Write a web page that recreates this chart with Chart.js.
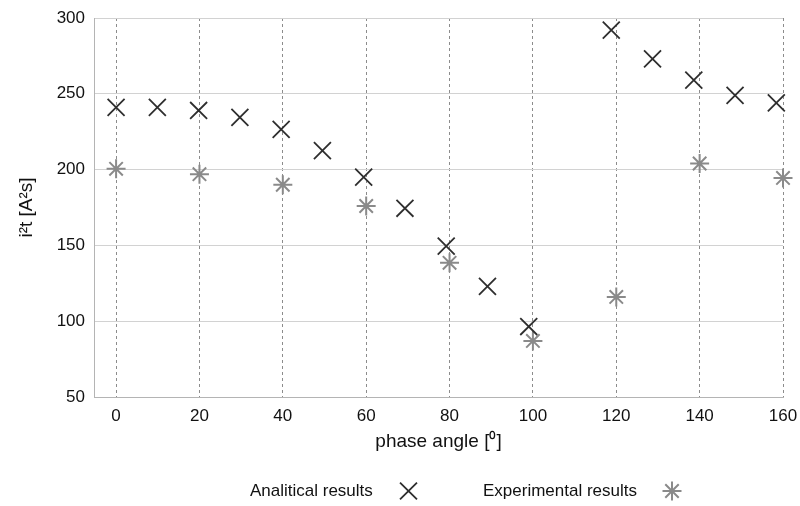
<!DOCTYPE html>
<html>
<head>
<meta charset="utf-8">
<script src="https://cdn.jsdelivr.net/npm/chart.js@4/dist/chart.umd.min.js"></script>
<style>
  html, body { margin: 0; padding: 0; background: #fff; }
</style>
</head>
<body>
<canvas id="myChart" width="800" height="506"></canvas>
<script>
// phase angle [deg] and i2t [A2s]
const analyticalAngle = [0, 9.9, 19.8, 29.7, 39.6, 49.5, 59.4, 69.3, 79.2, 89.1, 99, 118.8, 128.7, 138.6, 148.5, 158.4];
const analyticalI2t = [241, 241, 239, 234.5, 226.5, 212.5, 195, 174.5, 149.5, 123, 96.5, 292, 273, 259, 249, 244];

const experimentalAngle = [0, 20, 40, 60, 80, 100, 120, 140, 160];
const experimentalI2t = [200.5, 197, 190, 176, 138.5, 87, 116, 204, 194.5];

const xTicks = [0, 20, 40, 60, 80, 100, 120, 140, 160];
const yTicks = [50, 100, 150, 200, 250, 300];

const seriesNames = ['Analitical results', 'Experimental results'];

const FONT = "'Liberation Sans', Arial, Helvetica, sans-serif";

function toPoints(xs, ys) {
  return xs.map((x, i) => ({ x: x, y: ys[i] }));
}

// legend under the chart: text first, marker after it
const bottomLegend = {
  id: 'bottomLegend',
  afterDraw(chart) {
    const ctx = chart.ctx;
    const items = [
      { ds: 0, textX: 250, markX: 408.5 },
      { ds: 1, textX: 483, markX: 672 }
    ];
    const y = 491;
    ctx.save();
    ctx.font = '17px ' + FONT;
    ctx.fillStyle = '#111';
    ctx.textBaseline = 'middle';
    ctx.textAlign = 'left';
    items.forEach(item => {
      const ds = chart.data.datasets[item.ds];
      ctx.fillText(ds.label, item.textX, y);
      ctx.strokeStyle = ds.borderColor;
      ctx.lineWidth = ds.borderWidth;
      Chart.helpers.drawPoint(ctx, {
        pointStyle: ds.pointStyle,
        radius: ds.pointRadius,
        rotation: 0,
        borderWidth: ds.borderWidth
      }, item.markX, y);
    });
    ctx.restore();
  }
};

const ctx = document.getElementById('myChart').getContext('2d');

new Chart(ctx, {
  type: 'scatter',
  data: {
    datasets: [
      {
        label: seriesNames[0],
        data: toPoints(analyticalAngle, analyticalI2t),
        pointStyle: 'crossRot',
        pointRadius: 12,
        pointHoverRadius: 12,
        borderColor: '#2e2e2e',
        backgroundColor: '#2e2e2e',
        borderWidth: 1.8,
        clip: false
      },
      {
        label: seriesNames[1],
        data: toPoints(experimentalAngle, experimentalI2t),
        pointStyle: 'star',
        pointRadius: 9.5,
        pointHoverRadius: 9.5,
        borderColor: '#8a8a8a',
        backgroundColor: '#8a8a8a',
        borderWidth: 2,
        clip: false
      }
    ]
  },
  options: {
    responsive: false,
    animation: false,
    devicePixelRatio: 1,
    layout: {
      padding: { top: 18, right: 17, left: 0, bottom: 0 }
    },
    plugins: {
      legend: { display: false },
      tooltip: { enabled: false }
    },
    scales: {
      x: {
        type: 'linear',
        min: -5.3,
        max: 160,
        afterBuildTicks: (scale) => {
          scale.ticks = xTicks.map(v => ({ value: v }));
        },
        afterFit: (scale) => {
          scale.height = 109;
          scale.paddingLeft = 0;
          scale.paddingRight = 0;
        },
        grid: {
          color: '#8c8c8c',
          lineWidth: 1,
          drawTicks: false
        },
        border: {
          display: true,
          color: '#b4b4b4',
          width: 1,
          dash: [3, 3]
        },
        ticks: {
          padding: 9,
          color: '#111',
          font: { family: FONT, size: 17 }
        },
        title: {
          display: true,
          text: 'phase angle [\u2070]',
          color: '#111',
          font: { family: FONT, size: 19 },
          padding: { top: 0, bottom: 53 }
        }
      },
      y: {
        type: 'linear',
        min: 50,
        max: 300,
        afterBuildTicks: (scale) => {
          scale.ticks = yTicks.map(v => ({ value: v }));
        },
        afterFit: (scale) => {
          scale.width = 94;
          scale.paddingTop = 0;
          scale.paddingBottom = 0;
        },
        grid: {
          color: '#d2d2d2',
          lineWidth: 1,
          drawTicks: false
        },
        border: {
          display: true,
          color: '#b4b4b4',
          width: 1
        },
        ticks: {
          padding: 9,
          color: '#111',
          font: { family: FONT, size: 17 }
        },
        title: {
          display: true,
          text: 'i\u00b2t [A\u00b2s]',
          color: '#111',
          font: { family: FONT, size: 19 },
          padding: { top: 15, bottom: 0 }
        }
      }
    }
  },
  plugins: [bottomLegend]
});
</script>
</body>
</html>
